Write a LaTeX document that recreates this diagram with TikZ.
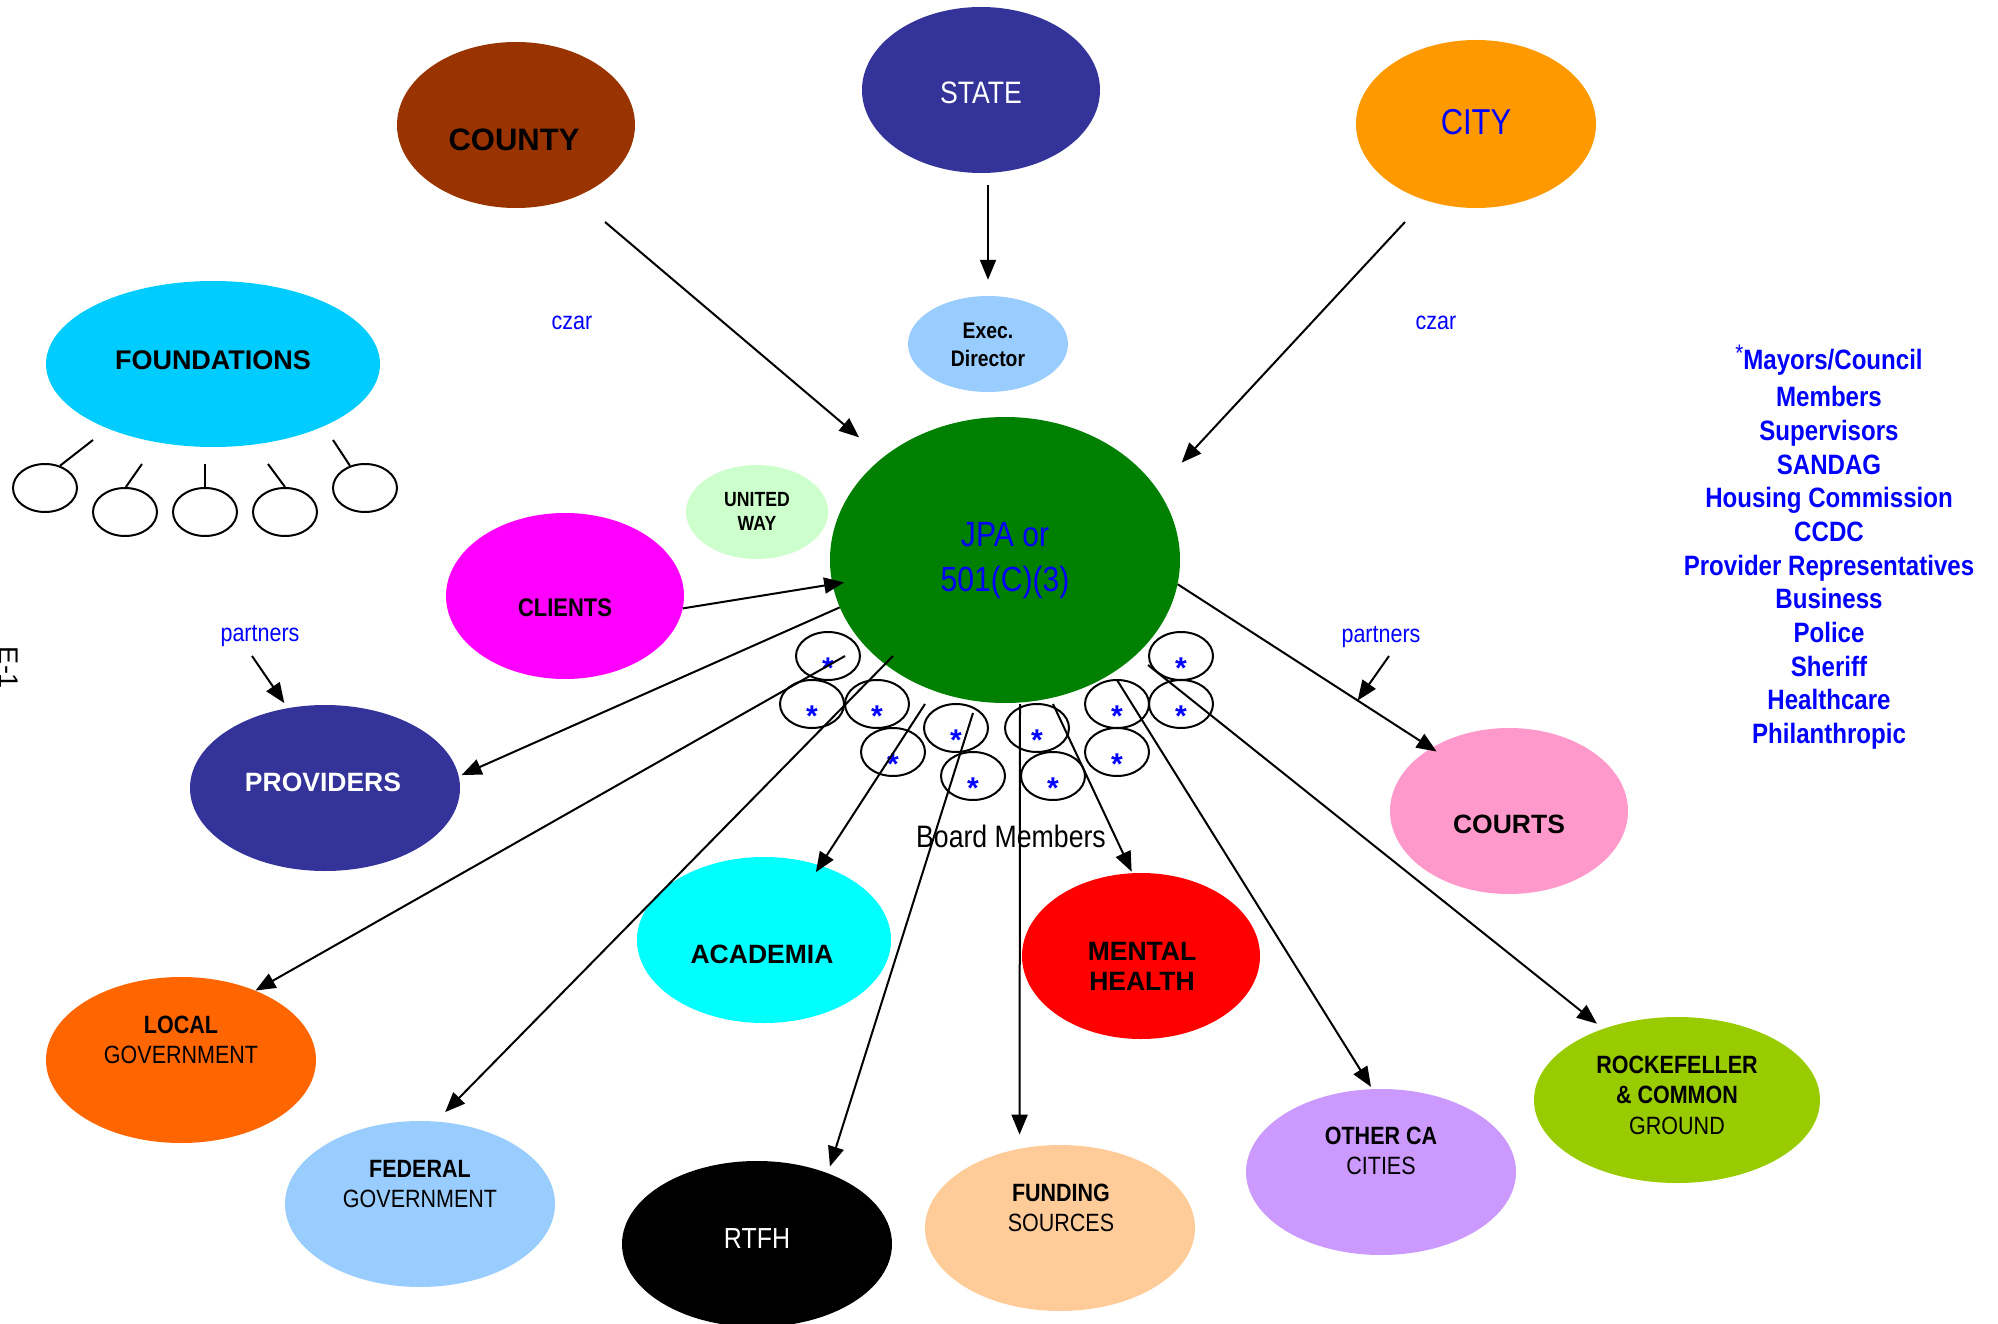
\documentclass[tikz,border=0pt]{standalone}
\usepackage{fontspec}
\setmainfont{Liberation Sans}
\newfontfamily\narrowfont[FakeStretch=0.86]{Liberation Sans}
\usetikzlibrary{shapes.geometric,arrows.meta}

\definecolor{countybrown}{HTML}{993300}
\definecolor{stateblue}{HTML}{333399}
\definecolor{cityorange}{HTML}{FF9900}
\definecolor{paleblue}{HTML}{99CCFF}
\definecolor{skyblue}{HTML}{00CCFF}
\definecolor{palegreen}{HTML}{CCFFCC}
\definecolor{jpagreen}{HTML}{008000}
\definecolor{magentapink}{HTML}{FF00FF}
\definecolor{courtpink}{HTML}{FF99CC}
\definecolor{aqua}{HTML}{00FFFF}
\definecolor{localorange}{HTML}{FF6600}
\definecolor{peach}{HTML}{FFCC99}
\definecolor{lilac}{HTML}{CC99FF}
\definecolor{lime}{HTML}{99CC00}

\begin{document}
\begin{tikzpicture}[x=1pt, y=-1pt,
  blob/.style={ellipse, inner sep=0pt, minimum width=238pt, minimum height=166pt},
  wideblob/.style={blob, minimum width=270pt},
  smallblob/.style={ellipse, draw, line width=2pt, inner sep=0pt, minimum width=64pt, minimum height=48pt},
  board/.style={smallblob, label={[starmark]center:*}},
  starmark/.style={text=blue, yshift=-12pt, font=\fontsize{30}{30}\selectfont\bfseries},
  caps/.style={align=center, font=\fontsize{26.5}{30}\selectfont\bfseries},
  nbold/.style={align=center, font=\narrowfont\fontsize{25}{30.5}\selectfont\bfseries},
  nreg/.style={align=center, font=\narrowfont\fontsize{25}{30.5}\selectfont},
  note/.style={text=blue, font=\narrowfont\fontsize{25}{30}\selectfont},
  sidelist/.style={align=center, text=blue, inner sep=0pt, font=\narrowfont\fontsize{28}{33.7}\selectfont\bfseries},
  arr/.style={-{Triangle[length=20pt,width=16pt]}, line width=2pt},
  link/.style={line width=2pt}]
\useasboundingbox (0,0) rectangle (1998,1324);

% the ovals
\node[blob, fill=countybrown] at (516,125) (county) {};
\node[blob, fill=stateblue] at (981,90) (state) {};
\node[blob, fill=cityorange, minimum width=240pt, minimum height=168pt] at (1476,124) (city) {};
\node[blob, fill=paleblue, minimum width=160pt, minimum height=96pt] at (988,344) (exec) {};
\node[blob, fill=skyblue, minimum width=334pt] at (213,364) (found) {};
\node[blob, fill=palegreen, minimum width=142pt, minimum height=94pt] at (757,512) (united) {};
\node[blob, fill=jpagreen, minimum width=350pt, minimum height=286pt] at (1005,560) (jpa) {};
\node[blob, fill=magentapink] at (565,596) (clients) {};
\node[wideblob, fill=stateblue] at (325,788) (prov) {};
\node[blob, fill=courtpink] at (1509,811) (courts) {};
\node[blob, fill=aqua, minimum width=254pt] at (764,940) (acad) {};
\node[blob, fill=red] at (1141,956) (mental) {};
\node[wideblob, fill=localorange] at (181,1060) (local) {};
\node[wideblob, fill=paleblue] at (420,1204) (fed) {};
\node[wideblob, fill=black] at (757,1244) (rtfh) {};
\node[wideblob, fill=peach] at (1060,1228) (fund) {};
\node[wideblob, fill=lilac] at (1381,1172) (other) {};
\node[blob, fill=lime, minimum width=286pt] at (1677,1100) (rock) {};

% the texts in them
\node[caps, font=\fontsize{31}{31}\selectfont\bfseries] at (514,140) {COUNTY};
\node[nreg, text=white, font=\narrowfont\fontsize{31}{31}\selectfont] at (981,93) {STATE};
\node[nreg, text=blue, font=\narrowfont\fontsize{36}{36}\selectfont] at (1476,122) {CITY};
\node[nbold, font=\narrowfont\fontsize{22.5}{28}\selectfont\bfseries] at (988,345) {Exec.\\Director};
\node[caps, font=\fontsize{27}{27}\selectfont\bfseries] at (213,360) {FOUNDATIONS};
\node[nbold, font=\narrowfont\fontsize{20.5}{24}\selectfont\bfseries] at (757,511) {UNITED\\WAY};
\node[nreg, text=blue, font=\narrowfont\fontsize{35}{45}\selectfont] at (1005,561) {JPA or\\501(C)(3)};
\node[nbold, font=\narrowfont\fontsize{25.5}{30}\selectfont\bfseries] at (565,608) {CLIENTS};
\node[caps, text=white] at (323,782) {PROVIDERS};
\node[caps] at (1509,824) {COURTS};
\node[caps] at (762,954) {ACADEMIA};
\node[caps] at (1142,966) {MENTAL\\HEALTH};
\node[nreg] at (181,1040) {\textbf{LOCAL}\\GOVERNMENT};
\node[nreg] at (420,1184) {\textbf{FEDERAL}\\GOVERNMENT};
\node[nreg, text=white, font=\narrowfont\fontsize{29}{29}\selectfont] at (757,1239) {RTFH};
\node[nreg] at (1061,1208) {\textbf{FUNDING}\\SOURCES};
\node[nreg] at (1381,1151) {\textbf{OTHER CA}\\CITIES};
\node[nreg] at (1677,1095) {\textbf{ROCKEFELLER}\\\textbf{\& COMMON}\\GROUND};

% small ovals under FOUNDATIONS
\node[smallblob] at (45,488) (fa) {};
\node[smallblob] at (125,512) (fb) {};
\node[smallblob] at (205,512) (fc) {};
\node[smallblob] at (285,512) (fd) {};
\node[smallblob] at (365,488) (fe) {};
\coordinate (fl1) at (93,440);
\coordinate (fl2) at (142,464);
\coordinate (fl3) at (205,464);
\coordinate (fl4) at (268,464);
\coordinate (fl5) at (333,440);
\draw[link] (fl1) -- (fa.56);
\draw[link] (fl2) -- (fb.88);
\draw[link] (fl3) -- (fc.north);
\draw[link] (fl4) -- (fd.north);
\draw[link] (fl5) -- (fe.124);

% board members
\node[board] at (828,656) (b1) {};
\node[board] at (812,704) (b2) {};
\node[board] at (877,704) (b3) {};
\node[board] at (893,752) (b4) {};
\node[board] at (956,728) (b5) {};
\node[board] at (973,776) (b6) {};
\node[board] at (1037,728) (b7) {};
\node[board] at (1053,776) (b8) {};
\node[board] at (1117,704) (b9) {};
\node[board] at (1181,704) (b10) {};
\node[board] at (1117,752) (b11) {};
\node[board] at (1181,656) (b12) {};
\node[font=\narrowfont\fontsize{31}{31}\selectfont, anchor=base] at (1011,847) (bm) {Board Members};

% loose labels
\node[note, anchor=base] at (572,330) (czarL) {czar};
\node[note, anchor=base] at (1436,330) (czarR) {czar};
\node[note, anchor=base] at (260,641) (partL) {partners};
\node[note, anchor=base] at (1381,642) (partR) {partners};
\node[rotate=-90, anchor=base, font=\fontsize{27}{27}\selectfont] at (-1,668) (page) {E-1};
\node[sidelist, anchor=north] at (1829,349) (roles) {\raisebox{8pt}[0pt][0pt]{\fontseries{m}\selectfont\fontsize{24}{24}\selectfont *}Mayors/Council\\[3.5pt]
  Members\\ Supervisors\\ SANDAG\\ Housing Commission\\ CCDC\\ Provider Representatives\\
  Business\\ Police\\ Sheriff\\ Healthcare\\ Philanthropic};

% arrows
\coordinate (cz1) at (605,222);
\coordinate (cz2) at (988,185);
\coordinate (cz3) at (1405,222);
\coordinate (o2) at (845,656);
\coordinate (o3) at (893,656);
\coordinate (o4) at (925,704);
\coordinate (o5) at (973,713);
\coordinate (o6) at (1020,704);
\coordinate (o7) at (1053,704);
\coordinate (o8) at (1117,680);
\coordinate (o9) at (1148,665);
\coordinate (pl) at (252,656);
\coordinate (pr) at (1389,656);
\draw[arr, shorten >=31pt] (cz1) -- (jpa.140);
\draw[arr, shorten >=16pt] (cz2) -- (exec.north);
\draw[arr, shorten >=36pt] (cz3) -- (jpa.25);
\draw[arr, shorten >=-12pt] (clients.-6) -- (jpa.188);
\draw[arr, shorten >=3pt] (jpa.196) -- (prov.5);
\draw[arr] (o2) -- (local.43);
\draw[arr, shorten >=13pt] (o3) -- (fed.79);
\draw[arr, shorten >=-8pt] (o4) -- (acad.53);
\draw[arr, shorten >=7pt] (o5) -- (rtfh.45);
\draw[arr, shorten >=14pt] (o6) -- (fund.117);
\draw[arr, shorten >=1.5pt] (o7) -- (mental.96);
\draw[arr, shorten >=2.5pt] (o8) -- (other.96);
\draw[arr, shorten >=8pt] (o9) -- (rock.136);
\draw[arr, shorten >=-6.5pt] (jpa.-8) -- coordinate[pos=0.71] (cm) (courts.141);
\draw[arr, shorten >=6pt] (pl) -- (prov.115);
\draw[arr] (pr) -- (cm);
\end{tikzpicture}
\end{document}
